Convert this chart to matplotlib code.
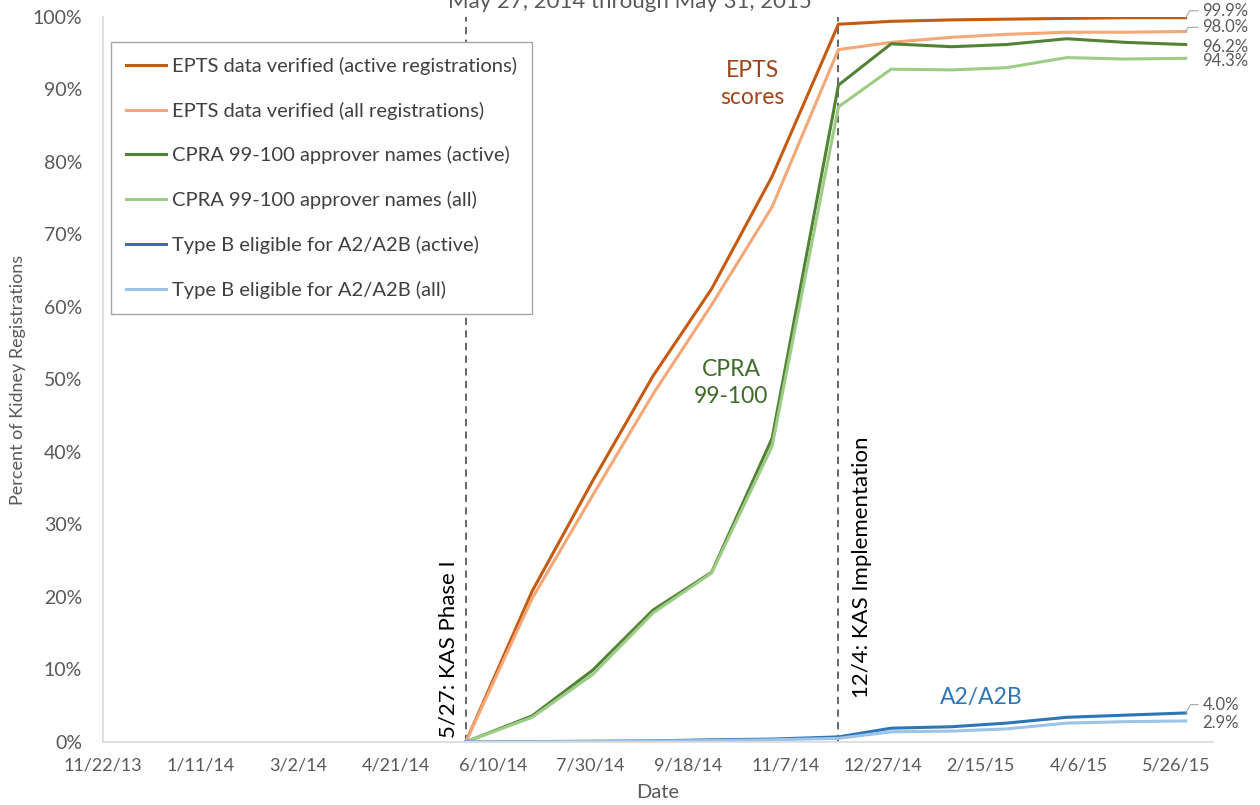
import matplotlib.pyplot as plt
import pandas as pd

plt.rcParams['font.family'] = ['Lato', 'DejaVu Sans']

# monthly snapshots, May 27 2014 through May 31 2015
dates = pd.to_datetime([
    "2014-05-27", "2014-06-30", "2014-07-31", "2014-08-31", "2014-09-30",
    "2014-10-31", "2014-12-04", "2014-12-31", "2015-01-31", "2015-02-28",
    "2015-03-31", "2015-04-30", "2015-05-31",
])

epts_active = [0, 20.8, 36.0, 50.5, 62.5, 78.0, 99.0, 99.4, 99.6, 99.7, 99.8, 99.9, 99.9]
epts_all = [0, 19.8, 34.0, 48.0, 60.3, 73.8, 95.5, 96.5, 97.2, 97.6, 97.9, 97.9, 98.0]
cpra_active = [0, 3.6, 9.9, 18.2, 23.4, 41.9, 90.6, 96.3, 95.9, 96.2, 97.0, 96.5, 96.2]
cpra_all = [0, 3.4, 9.3, 17.8, 23.3, 40.8, 87.6, 92.8, 92.7, 93.0, 94.4, 94.2, 94.3]
typeb_active = [0, 0.05, 0.1, 0.15, 0.3, 0.4, 0.7, 1.9, 2.1, 2.6, 3.4, 3.7, 4.0]
typeb_all = [0, 0.03, 0.08, 0.12, 0.2, 0.3, 0.5, 1.4, 1.5, 1.8, 2.6, 2.8, 2.9]

# label, values, colour, vertical nudge of the end label (points)
series = [
    ("EPTS data verified (active registrations)", epts_active, "#C55A11", 5.0),
    ("EPTS data verified (all registrations)", epts_all, "#F4A777", 3.0),
    ("CPRA 99-100 approver names (active)", cpra_active, "#548235", -1.5),
    ("CPRA 99-100 approver names (all)", cpra_all, "#9DCC86", -2.0),
    ("Type B eligible for A2/A2B (active)", typeb_active, "#2E75B6", 6.0),
    ("Type B eligible for A2/A2B (all)", typeb_all, "#9DC3E6", -1.5),
]

kas_phase1 = pd.Timestamp("2014-05-27")
kas_impl = pd.Timestamp("2014-12-04")
tick_dates = pd.date_range("2013-11-22", periods=12, freq="50D")

fig = plt.figure(figsize=(12.6, 8.05), dpi=100)
ax = fig.add_axes([0.0817, 0.0783, 0.881, 0.9006])

for label, vals, color, dy in series:
    ax.plot(dates, vals, color=color, lw=2.2, label=label, solid_joinstyle='round')
    ax.annotate(f"{vals[-1]:.1f}%", xy=(dates[-1], vals[-1]), xytext=(12, dy),
                textcoords='offset points', ha='left', va='center',
                fontsize=12, color='#595959',
                arrowprops=dict(arrowstyle='-', color='#a6a6a6', lw=0.8,
                                shrinkA=1, shrinkB=0, relpos=(0, 0.5),
                                connectionstyle='angle,angleA=0,angleB=60,rad=0')
                if dy > 0 else None)

for d in (kas_phase1, kas_impl):
    ax.axvline(d, color='#595959', lw=1.3, ls=(0, (4, 3)), zorder=1)

ax.text(kas_phase1 - pd.Timedelta(days=9), 0.6, "5/27: KAS Phase I", rotation=90,
        ha='center', va='bottom', fontsize=16, color='black')
ax.text(kas_impl + pd.Timedelta(days=12), 6.0, "12/4: KAS Implementation", rotation=90,
        ha='center', va='bottom', fontsize=16, color='black')

ax.text(pd.Timestamp("2014-10-21"), 90.7, "EPTS\nscores", ha='center', va='center',
        fontsize=16.5, color='#A0441A', linespacing=1.35)
ax.text(pd.Timestamp("2014-10-10"), 49.5, "CPRA\n99-100", ha='center', va='center',
        fontsize=16.5, color='#3E6B2A', linespacing=1.35)
ax.text(pd.Timestamp("2015-02-15"), 6.2, "A2/A2B", ha='center', va='center',
        fontsize=16.5, color='#2E75B6')

ax.set_xlim(pd.Timestamp("2013-11-22"), pd.Timestamp("2015-06-14"))
ax.set_ylim(0, 100)
ax.set_xticks(tick_dates)
ax.set_xticklabels([f"{d.month}/{d.day}/{d:%y}" for d in tick_dates])
ax.set_yticks(range(0, 101, 10))
ax.set_yticklabels([f"{v}%" for v in range(0, 101, 10)])
ax.tick_params(axis='both', length=0, colors='#595959')
ax.tick_params(axis='y', pad=15, labelsize=14)
ax.tick_params(axis='x', pad=11, labelsize=13)

for side in ('top', 'right'):
    ax.spines[side].set_visible(False)
for side in ('left', 'bottom'):
    ax.spines[side].set_color('#d9d9d9')
    ax.spines[side].set_linewidth(1.2)

ax.set_xlabel("Date", fontsize=14.5, color='#595959', labelpad=8)
ax.set_ylabel("Percent of Kidney Registrations", fontsize=13, color='#595959', labelpad=5)

leg = ax.legend(loc='upper left', bbox_to_anchor=(0.007, 0.966), borderaxespad=0,
                fontsize=14.5, labelspacing=1.33, handlelength=2.0, handletextpad=0.3,
                borderpad=0.75, fancybox=False, edgecolor='#a6a6a6', framealpha=1)
for t in leg.get_texts():
    t.set_color('#404040')

fig.text(0.5, 0.99, "May 27, 2014 through May 31, 2015", ha='center', va='baseline',
         fontsize=16, color='#595959')

fig.savefig("out.png", dpi=100)
